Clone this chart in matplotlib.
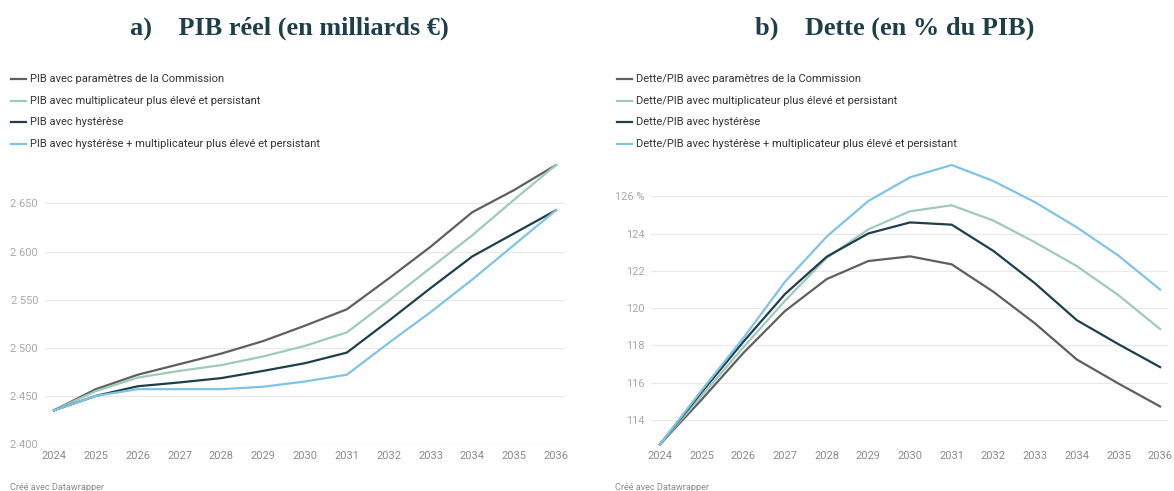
import matplotlib
matplotlib.use("Agg")
import matplotlib.pyplot as plt

years = list(range(2024, 2037))

# a) PIB réel (en milliards €)
pib_labels = [
    "PIB avec paramètres de la Commission",
    "PIB avec multiplicateur plus élevé et persistant",
    "PIB avec hystérèse",
    "PIB avec hystérèse + multiplicateur plus élevé et persistant",
]
pib_commission = [2435, 2457, 2472, 2483, 2494, 2507, 2523, 2540, 2572, 2605, 2641, 2664, 2690]
pib_multi = [2435, 2455, 2469, 2476, 2482, 2491, 2502, 2516, 2549, 2583, 2617, 2654, 2690]
pib_hyst = [2435, 2450, 2460, 2464, 2468.5, 2476, 2484, 2495, 2528, 2562, 2595, 2619, 2643]
pib_hyst_multi = [2435, 2450, 2457, 2457, 2457, 2459.5, 2465, 2472, 2505, 2537, 2571, 2607, 2643]

# b) Dette (en % du PIB)
dette_labels = [
    "Dette/PIB avec paramètres de la Commission",
    "Dette/PIB avec multiplicateur plus élevé et persistant",
    "Dette/PIB avec hystérèse",
    "Dette/PIB avec hystérèse + multiplicateur plus élevé et persistant",
]
dette_commission = [112.7, 115.1, 117.6, 119.85, 121.56, 122.53, 122.78, 122.35, 120.88, 119.18, 117.25, 115.96, 114.73]
dette_multi = [112.7, 115.3, 117.9, 120.4, 122.7, 124.23, 125.2, 125.52, 124.7, 123.53, 122.26, 120.7, 118.88]
dette_hyst = [112.7, 115.5, 118.2, 120.76, 122.76, 124.01, 124.6, 124.48, 123.07, 121.33, 119.36, 118.07, 116.84]
dette_hyst_multi = [112.7, 115.6, 118.4, 121.42, 123.84, 125.75, 127.02, 127.68, 126.82, 125.68, 124.34, 122.82, 121.0]

colors = ["#5f5f5f", "#9fc9bd", "#1e3f4a", "#80c3e4"]
title_color = "#1e3f4a"
sans = ["Roboto", "DejaVu Sans"]
serif = ["Liberation Serif", "DejaVu Serif"]

W, H = 1174, 491
fig = plt.figure(figsize=(W / 100, H / 100), dpi=100)


def px_axes(x0, x1, ytop, ybot):
    return fig.add_axes([x0 / W, 1 - ybot / H, (x1 - x0) / W, (ybot - ytop) / H])


def style_axes(ax, yticks, ylabels, xlim, ylim, ypad):
    ax.set_xlim(*xlim)
    ax.set_ylim(*ylim)
    for s in ax.spines.values():
        s.set_visible(False)
    ax.set_yticks(yticks)
    ax.set_yticklabels(ylabels)
    ax.set_xticks(years)
    ax.set_xticklabels([str(y) for y in years])
    ax.grid(axis="y", color="#e9e9e9", lw=0.9, zorder=0)
    ax.tick_params(length=0)
    ax.tick_params(axis="y", pad=ypad, labelsize=7.9, labelcolor="#a8a8a8")
    ax.tick_params(axis="x", pad=5, labelsize=7.9, labelcolor="#8a8a8a")
    for t in ax.get_xticklabels() + ax.get_yticklabels():
        t.set_family(sans)


def legend(x_line, y_positions, labels):
    for lab, col, y in zip(labels, colors, y_positions):
        fig.add_artist(plt.Line2D([x_line / W, (x_line + 15) / W], [1 - y / H, 1 - y / H],
                                  color=col, lw=1.6))
        fig.text((x_line + 19) / W, 1 - y / H, lab, fontsize=8.0, color="#333333",
                 family=sans, va="center", ha="left")


# left panel
ax1 = px_axes(45, 565, 165, 444)
for vals, col in zip([pib_commission, pib_multi, pib_hyst, pib_hyst_multi], colors):
    ax1.plot(years, vals, color=col, lw=1.6, zorder=3, clip_on=False)
style_axes(ax1, [2400, 2450, 2500, 2550, 2600, 2650],
           ["2 400", "2 450", "2 500", "2 550", "2 600", "2 650"],
           (2023.785, 2036.215), (2400, 2690), 5)

# right panel
ax2 = px_axes(651, 1168, 165, 444.3)
for vals, col in zip([dette_commission, dette_multi, dette_hyst, dette_hyst_multi], colors):
    ax2.plot(years, vals, color=col, lw=1.6, zorder=3, clip_on=False)
style_axes(ax2, [114, 116, 118, 120, 122, 124, 126],
           ["114", "116", "118", "120", "122", "124", "126 %"],
           (2023.784, 2036.19), (112.7, 127.68), 4.5)

# titles
fig.text(289 / W, 1 - 28 / H, "a)    PIB réel (en milliards €)", fontsize=18.9, fontweight="bold",
         color=title_color, family=serif, ha="center", va="center")
fig.text(895 / W, 1 - 28 / H, "b)    Dette (en % du PIB)", fontsize=18.9, fontweight="bold",
         color=title_color, family=serif, ha="center", va="center")

legend(11, [79, 100.5, 122, 144], pib_labels)
legend(617, [79, 100.5, 122, 144], dette_labels)

fig.text(10 / W, 1 - 487 / H, "Créé avec Datawrapper", fontsize=6.6, color="#8a8a8a",
         family=sans, va="center")
fig.text(615 / W, 1 - 487 / H, "Créé avec Datawrapper", fontsize=6.6, color="#8a8a8a",
         family=sans, va="center")

fig.savefig("out.png", dpi=100, facecolor="white")
